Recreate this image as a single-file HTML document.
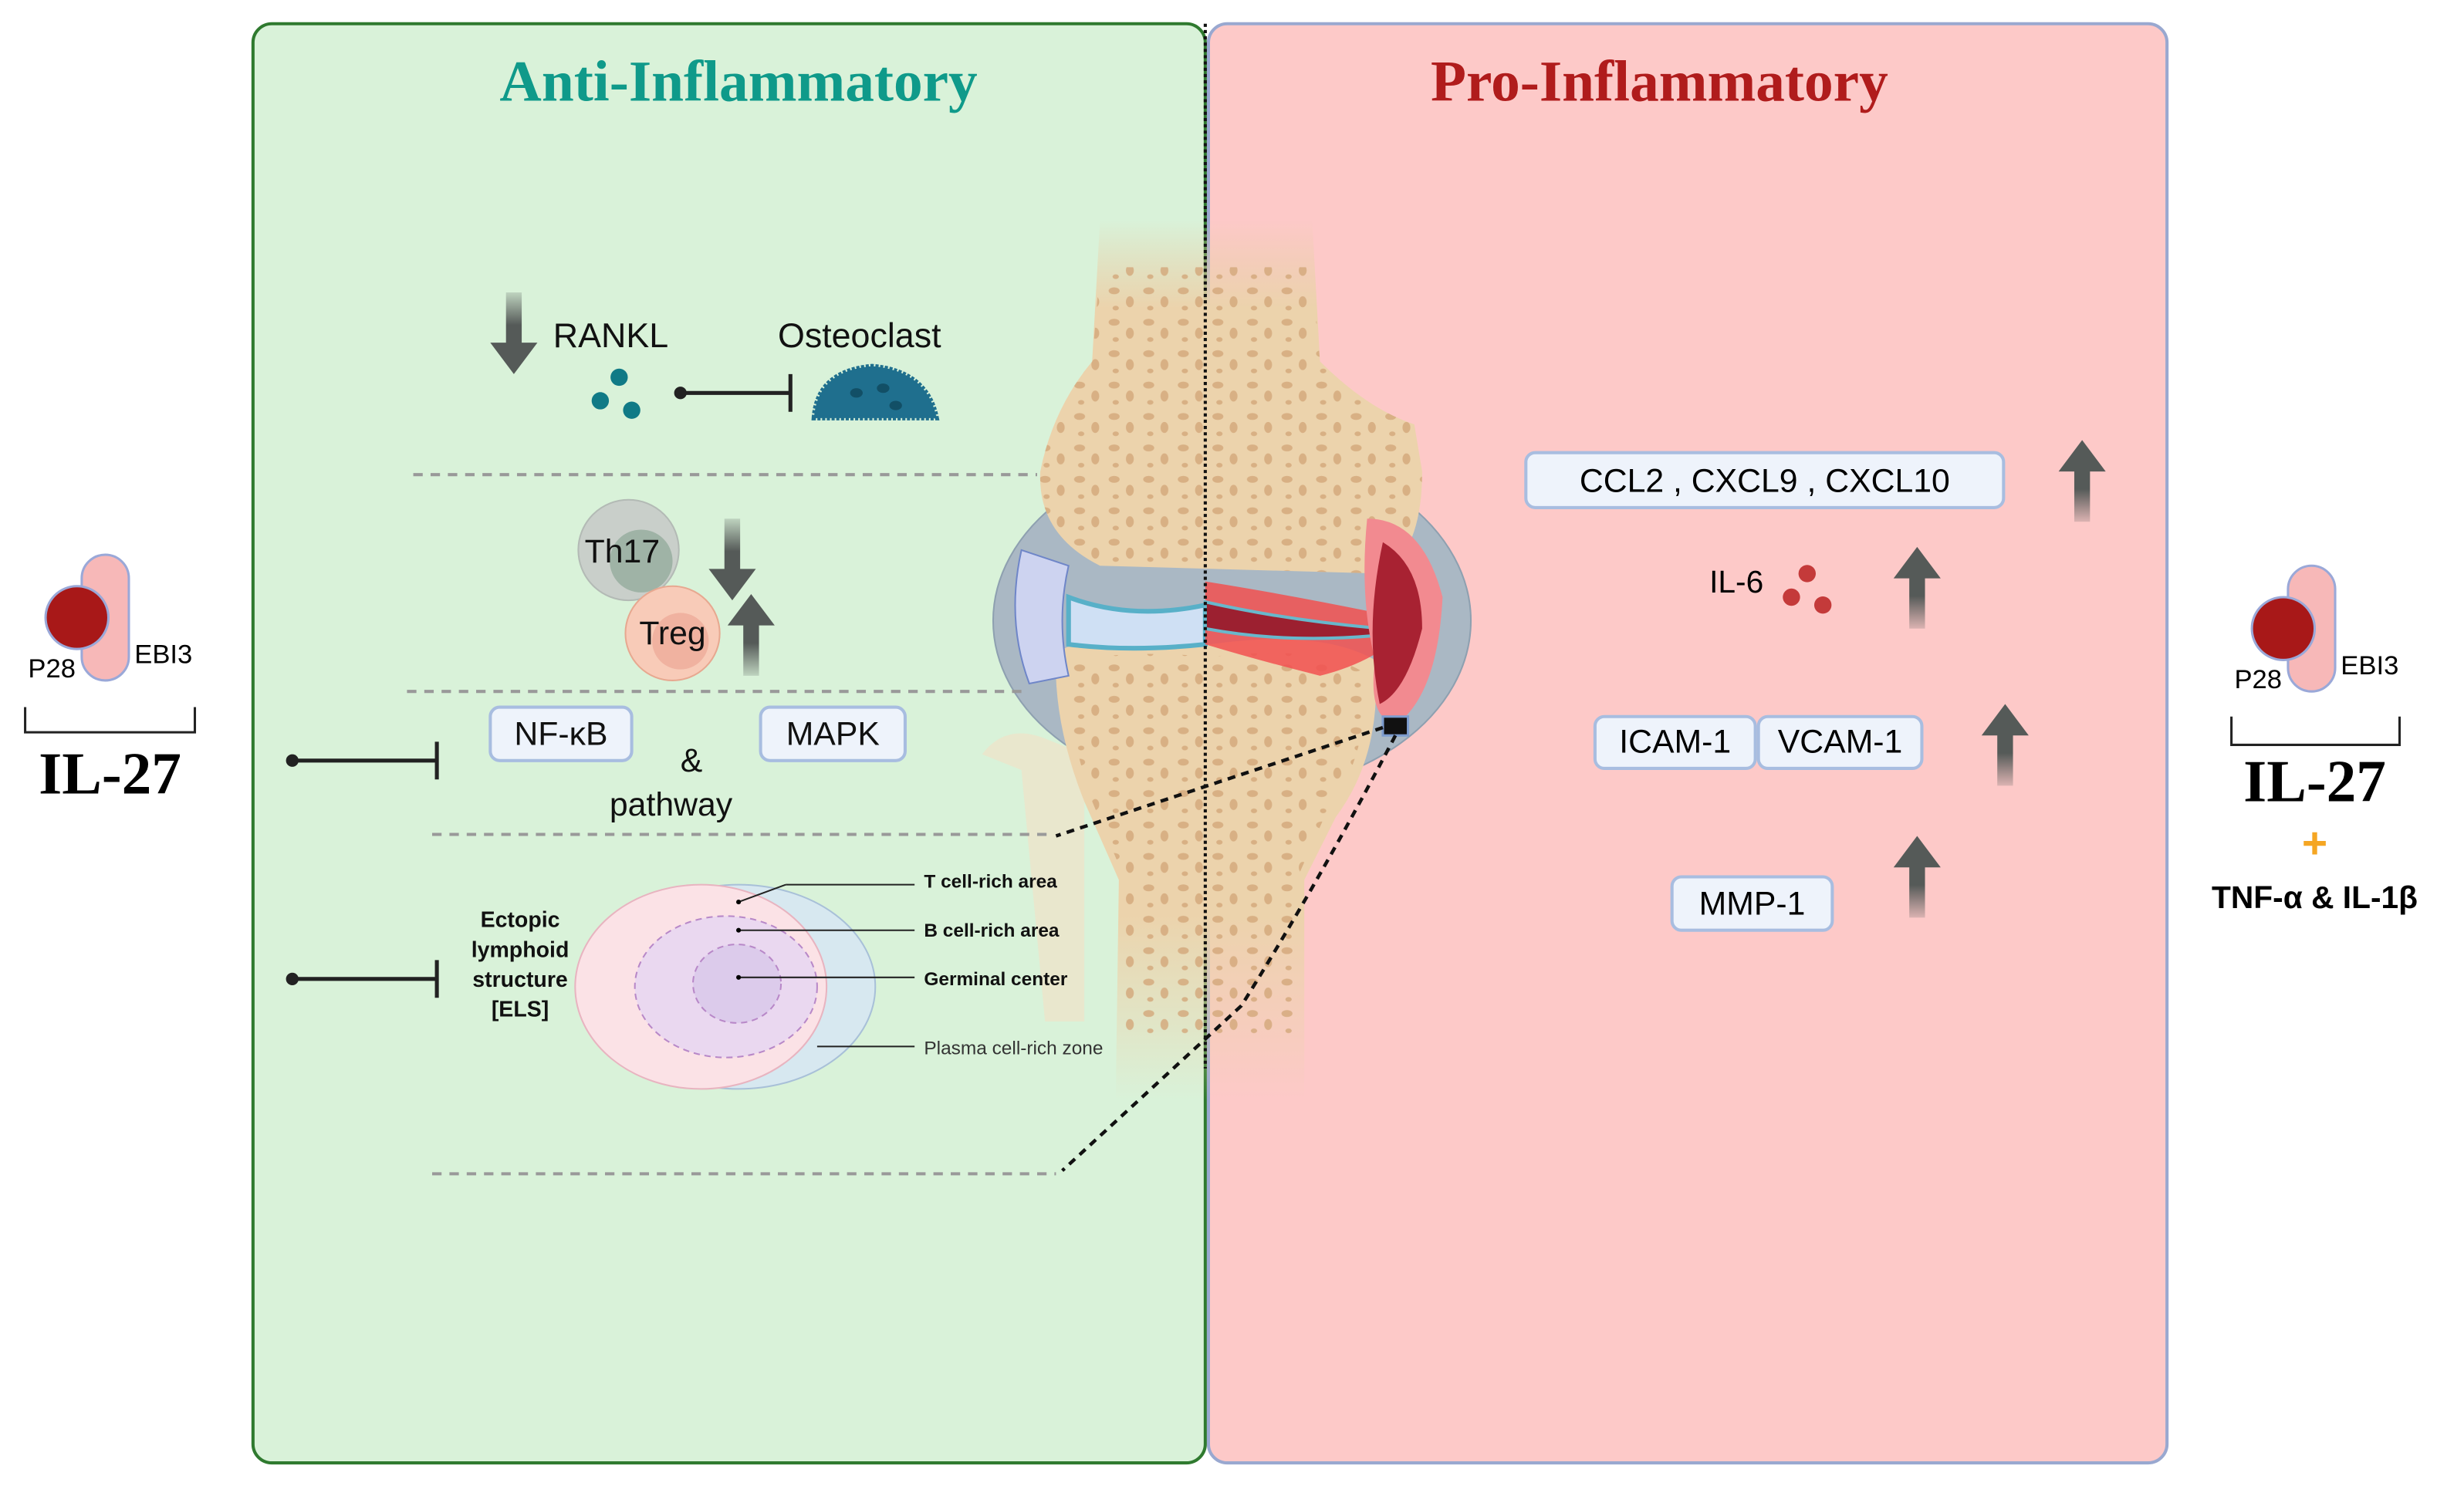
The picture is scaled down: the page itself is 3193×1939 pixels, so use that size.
<!DOCTYPE html>
<html><head><meta charset="utf-8"><style>
html,body{margin:0;padding:0;background:#fff}
svg{display:block}
.s{font-family:"Liberation Sans",sans-serif}
.r{font-family:"Liberation Serif",serif;font-weight:bold}
</style></head><body>
<svg width="3193" height="1939" viewBox="0 0 1568 952" xmlns="http://www.w3.org/2000/svg">
<defs>
<linearGradient id="fade" x1="0" y1="0" x2="0" y2="1">
<stop offset="0" stop-color="#e8cfa8" stop-opacity="0"/><stop offset="0.25" stop-color="#ecd3ac" stop-opacity="1"/></linearGradient>
<linearGradient id="fade2" x1="0" y1="0" x2="0" y2="1">
<stop offset="0.6" stop-color="#ecd3ac" stop-opacity="1"/><stop offset="1" stop-color="#ecd3ac" stop-opacity="0"/></linearGradient>
<linearGradient id="ar" x1="0" y1="0" x2="0" y2="1"><stop offset="0" stop-color="#555a58" stop-opacity="0.2"/><stop offset="0.4" stop-color="#555a58"/></linearGradient>
<linearGradient id="arU" x1="0" y1="1" x2="0" y2="0"><stop offset="0" stop-color="#555a58" stop-opacity="0.2"/><stop offset="0.4" stop-color="#555a58"/></linearGradient>
<g id="up"><path d="M-5 52 V20 H-15 L0 0 L15 20 H5 V52 Z" fill="url(#arU)"/></g>
<g id="dn"><path d="M-5 0 V32 H-15 L0 52 L15 32 H5 V0 Z" fill="url(#ar)"/></g>
<pattern id="sp" width="22" height="20" patternUnits="userSpaceOnUse">
<ellipse cx="5" cy="5" rx="3.5" ry="2.2" fill="#d3a77a"/><ellipse cx="15" cy="12" rx="2.5" ry="3.5" fill="#d3a77a"/><ellipse cx="6" cy="16" rx="2" ry="1.5" fill="#d3a77a"/></pattern>
</defs>
<rect x="161" y="15" width="606" height="916" rx="12" fill="#d9f2d9" stroke="#2f7a2f" stroke-width="2"/>
<rect x="769" y="15" width="610" height="916" rx="12" fill="#fdc9c8" stroke="#99a8d0" stroke-width="2"/>
<text x="470" y="64" text-anchor="middle" class="r" font-size="37" fill="#0f9a8a">Anti-Inflammatory</text>
<text x="1056" y="64" text-anchor="middle" class="r" font-size="37" fill="#b01c1c">Pro-Inflammatory</text>

<!-- joint -->
<path d="M625 480 Q640 460 665 470 L690 480 L690 650 L665 650 L650 490 Z" fill="#efe2c8" opacity="0.7"/>
<ellipse cx="784" cy="395" rx="152" ry="110" fill="#aab8c4" stroke="#8ea0b0"/>
<path d="M700 140 L835 140 L840 230 Q870 260 900 270 L905 300 Q905 350 880 365 L700 360 Q660 340 662 300 Q670 260 695 230 Z" fill="url(#fade)"/>
<path d="M700 170 L835 170 L840 230 Q870 260 900 270 L905 300 Q905 350 880 365 L700 360 Q660 340 662 300 Q670 260 695 230 Z" fill="url(#sp)" opacity="0.8"/>
<path d="M672 415 Q700 400 770 410 Q840 400 875 420 Q880 480 850 520 L830 560 L830 700 L710 700 L712 560 L690 510 Q670 460 672 415 Z" fill="url(#fade2)"/>
<path d="M680 425 Q700 412 770 418 Q840 410 868 428 Q872 480 845 515 L825 560 L825 660 L715 660 L716 560 L695 510 Q678 460 680 425 Z" fill="url(#sp)" opacity="0.8"/>
<path d="M650 350 Q640 395 655 435 L680 430 Q672 395 680 360 Z" fill="#cdd3f0" stroke="#6f86c8"/>
<path d="M680 380 Q720 395 767 385 L767 410 Q720 415 680 410 Z" fill="#cfe0f4" stroke="#58b0c8" stroke-width="3"/>
<path d="M767 370 Q830 380 900 395 Q880 420 840 430 Q800 420 767 410 Z" fill="#f25050" opacity="0.85"/>
<path d="M767 383 Q820 395 880 400 L880 404 Q820 410 767 400 Z" fill="#9c2030" stroke="#68b8cc" stroke-width="2"/>
<path d="M870 330 Q905 330 918 380 Q915 440 890 460 Q870 460 875 420 Q865 380 870 330 Z" fill="#f28a90"/>
<path d="M880 345 Q905 360 905 400 Q895 440 878 448 Q868 400 880 345 Z" fill="#a82232"/>
<rect x="880" y="456" width="16" height="12" fill="#111" stroke="#7d9ccf" stroke-width="1.5"/>
<line x1="767" y1="15" x2="767" y2="680" stroke="#111" stroke-width="2" stroke-dasharray="2 2"/>
<path d="M880 463 L672 532 M888 468 Q840 560 790 640 L676 745" stroke="#111" stroke-width="2.2" fill="none" stroke-dasharray="5 4"/>

<!-- dashed separators -->
<g stroke="#999" stroke-width="2" stroke-dasharray="6 5">
<line x1="263" y1="302" x2="660" y2="302"/><line x1="259" y1="440" x2="650" y2="440"/>
<line x1="275" y1="531" x2="670" y2="531"/><line x1="275" y1="747" x2="672" y2="747"/></g>

<!-- RANKL -->
<use href="#dn" x="327" y="186"/>
<text x="352" y="221" class="s" font-size="22" fill="#111">RANKL</text>
<text x="495" y="221" class="s" font-size="22" fill="#111">Osteoclast</text>
<circle cx="394" cy="240" r="5.5" fill="#107a86"/><circle cx="382" cy="255" r="5.5" fill="#107a86"/><circle cx="402" cy="261" r="5.5" fill="#107a86"/>
<circle cx="433" cy="250" r="4" fill="#222"/><line x1="433" y1="250" x2="502" y2="250" stroke="#222" stroke-width="2.5"/><line x1="503" y1="238" x2="503" y2="262" stroke="#222" stroke-width="2.5"/>
<path d="M518 266 Q520 236 555 233 Q590 236 596 266 Z" fill="#1f6f8e" stroke="#1f6f8e" stroke-width="3" stroke-dasharray="2 1"/>
<ellipse cx="545" cy="250" rx="4" ry="3" fill="#124f66"/><ellipse cx="562" cy="247" rx="4" ry="3" fill="#124f66"/><ellipse cx="570" cy="258" rx="4" ry="3" fill="#124f66"/>

<!-- Th17 Treg -->
<circle cx="400" cy="350" r="32" fill="#c9cfca" stroke="#b3bab5"/><circle cx="408" cy="357" r="20" fill="#9fb3a6"/>
<circle cx="428" cy="403" r="30" fill="#f8cbb8" stroke="#e7a890"/><circle cx="433" cy="408" r="18" fill="#f0b2a0"/>
<text x="396" y="358" text-anchor="middle" class="s" font-size="21" fill="#111">Th17</text>
<text x="428" y="410" text-anchor="middle" class="s" font-size="21" fill="#111">Treg</text>
<use href="#dn" x="466" y="330"/><use href="#up" x="478" y="378"/>

<!-- NF-kB -->
<rect x="312" y="450" width="90" height="34" rx="6" fill="#eef3fb" stroke="#a8bde0" stroke-width="2"/>
<text x="357" y="474" text-anchor="middle" class="s" font-size="21" fill="#111">NF-κB</text>
<rect x="484" y="450" width="92" height="34" rx="6" fill="#eef3fb" stroke="#a8bde0" stroke-width="2"/>
<text x="530" y="474" text-anchor="middle" class="s" font-size="21" fill="#111">MAPK</text>
<text x="440" y="491" text-anchor="middle" class="s" font-size="21" fill="#111">&amp;</text>
<text x="427" y="519" text-anchor="middle" class="s" font-size="21" fill="#111">pathway</text>
<circle cx="186" cy="484" r="4" fill="#222"/><line x1="186" y1="484" x2="277" y2="484" stroke="#222" stroke-width="2.5"/><line x1="278" y1="472" x2="278" y2="496" stroke="#222" stroke-width="2.5"/>
<circle cx="186" cy="623" r="4" fill="#222"/><line x1="186" y1="623" x2="277" y2="623" stroke="#222" stroke-width="2.5"/><line x1="278" y1="611" x2="278" y2="635" stroke="#222" stroke-width="2.5"/>

<!-- ELS -->
<ellipse cx="470" cy="628" rx="87" ry="65" fill="#d7e8f0" stroke="#a8c0d8"/>
<ellipse cx="446" cy="628" rx="80" ry="65" fill="#fbe2e6" stroke="#e8b4c0"/>
<ellipse cx="462" cy="628" rx="58" ry="45" fill="#ead8f0" stroke="#b888c8" stroke-dasharray="4 3"/>
<ellipse cx="469" cy="626" rx="28" ry="25" fill="#dccbeb" stroke="#b888c8" stroke-dasharray="4 3"/>
<g class="s" font-size="14" font-weight="bold" fill="#111" text-anchor="middle">
<text x="331" y="590">Ectopic</text><text x="331" y="609">lymphoid</text><text x="331" y="628">structure</text><text x="331" y="647">[ELS]</text></g>
<g stroke="#222" stroke-width="1"><line x1="470" y1="574" x2="500" y2="563"/><line x1="500" y1="563" x2="582" y2="563"/>
<line x1="470" y1="592" x2="582" y2="592"/><line x1="470" y1="622" x2="582" y2="622"/><line x1="520" y1="666" x2="582" y2="666"/></g>
<circle cx="470" cy="574" r="1.5"/><circle cx="470" cy="592" r="1.5"/><circle cx="470" cy="622" r="1.5"/>
<g class="s" font-size="12" fill="#111"><text x="588" y="565" font-weight="bold">T cell-rich area</text><text x="588" y="596" font-weight="bold">B cell-rich area</text><text x="588" y="627" font-weight="bold">Germinal center</text><text x="588" y="671" fill="#333">Plasma cell-rich zone</text></g>

<!-- Left IL-27 -->
<rect x="52" y="353" width="30" height="80" rx="15" fill="#f7b8b8" stroke="#9aa8d8" stroke-width="1.5"/>
<circle cx="49" cy="393" r="20" fill="#a81818" stroke="#9aa8d8" stroke-width="1.5"/>
<text x="33" y="431" text-anchor="middle" class="s" font-size="17">P28</text>
<text x="104" y="422" text-anchor="middle" class="s" font-size="17">EBI3</text>
<path d="M16 450 V466 H124 V450" fill="none" stroke="#222" stroke-width="1.5"/>
<text x="70" y="505" text-anchor="middle" class="r" font-size="38">IL-27</text>

<!-- Right IL-27 -->
<rect x="1456" y="360" width="30" height="80" rx="15" fill="#f7b8b8" stroke="#9aa8d8" stroke-width="1.5"/>
<circle cx="1453" cy="400" r="20" fill="#a81818" stroke="#9aa8d8" stroke-width="1.5"/>
<text x="1437" y="438" text-anchor="middle" class="s" font-size="17">P28</text>
<text x="1508" y="429" text-anchor="middle" class="s" font-size="17">EBI3</text>
<path d="M1420 456 V474 H1527 V456" fill="none" stroke="#222" stroke-width="1.5"/>
<text x="1473" y="510" text-anchor="middle" class="r" font-size="38">IL-27</text>
<text x="1473" y="546" text-anchor="middle" class="s" font-size="28" font-weight="bold" fill="#f5a623">+</text>
<text x="1473" y="578" text-anchor="middle" class="s" font-size="20" font-weight="bold">TNF-α &amp; IL-1β</text>

<!-- right boxes -->
<rect x="971" y="288" width="304" height="35" rx="6" fill="#eef3fb" stroke="#a8bde0" stroke-width="2"/>
<text x="1123" y="313" text-anchor="middle" class="s" font-size="21">CCL2 , CXCL9 , CXCL10</text>
<text x="1105" y="377" text-anchor="middle" class="s" font-size="20">IL-6</text>
<circle cx="1150" cy="365" r="5.5" fill="#c43a3a"/><circle cx="1140" cy="380" r="5.5" fill="#c43a3a"/><circle cx="1160" cy="385" r="5.5" fill="#c43a3a"/>
<rect x="1015" y="456" width="102" height="33" rx="6" fill="#eef3fb" stroke="#a8bde0" stroke-width="2"/>
<text x="1066" y="479" text-anchor="middle" class="s" font-size="21">ICAM-1</text>
<rect x="1119" y="456" width="104" height="33" rx="6" fill="#eef3fb" stroke="#a8bde0" stroke-width="2"/>
<text x="1171" y="479" text-anchor="middle" class="s" font-size="21">VCAM-1</text>
<rect x="1064" y="558" width="102" height="34" rx="6" fill="#eef3fb" stroke="#a8bde0" stroke-width="2"/>
<text x="1115" y="582" text-anchor="middle" class="s" font-size="21">MMP-1</text>
<use href="#up" x="1325" y="280"/><use href="#up" x="1220" y="348"/><use href="#up" x="1276" y="448"/><use href="#up" x="1220" y="532"/>
</svg>
</body></html>
